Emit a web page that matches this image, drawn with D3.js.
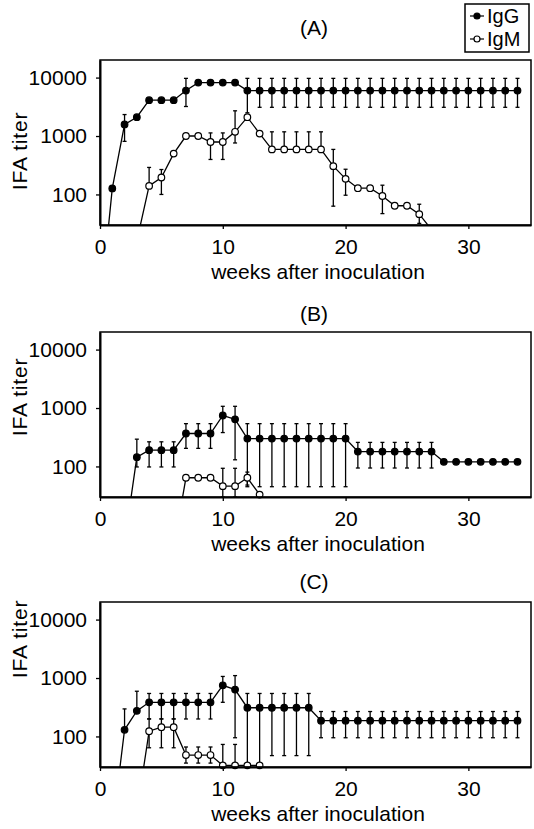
<!DOCTYPE html>
<html>
<head>
<meta charset="utf-8">
<script src="https://cdn.jsdelivr.net/npm/d3@7"></script>
<style>
  body { margin: 0; background: #fff; }
  text { font-family: "Liberation Sans", Arial, sans-serif; fill: #000; }
</style>
</head>
<body>
<svg id="chart" width="534" height="829"></svg>
<script>
// weeks after inoculation (one value per week, null = not plotted)
var weeks = [0,1,2,3,4,5,6,7,8,9,10,11,12,13,14,15,16,17,18,19,20,21,22,23,24,25,26,27,28,29,30,31,32,33,34];
var xTicks = [0, 10, 20, 30];
var yTicks = [100, 1000, 10000];
var titles = ["(A)", "(B)", "(C)"];
var seriesNames = ["IgG", "IgM"];

// panel A
var igG_A    = [1,127,1580,2100,4100,4100,4100,6000,8200,8200,8200,8200,6000,6000,6000,6000,6000,6000,6000,6000,6000,6000,6000,6000,6000,6000,6000,6000,6000,6000,6000,6000,6000,6000,6000];
var igG_A_lo = [null,null,810,null,null,null,null,3200,null,null,null,null,2500,3100,3100,3100,3100,3100,3100,3100,3100,3100,3100,3100,3100,3100,3100,3100,3100,3100,3100,3100,3100,3100,3100];
var igG_A_hi = [null,null,2330,null,null,null,null,9700,null,null,null,null,9700,9700,9700,9700,9700,9700,9700,9700,9700,9700,9700,9700,9700,9700,9700,9700,9700,9700,9700,9700,9700,9700,9700];
var igM_A    = [null,null,null,16,140,195,500,1000,1000,790,790,1180,2100,1100,590,590,590,590,590,305,185,128,128,94,64,64,46,25,null,null,null,null,null,null,null];
var igM_A_lo = [null,null,null,null,140,100,null,null,null,397,397,760,null,null,590,590,590,590,590,63,97,null,null,47,null,null,32,null,null,null,null,null,null,null,null];
var igM_A_hi = [null,null,null,null,290,267,null,null,null,1130,1130,2700,null,null,1180,1180,1180,1180,1180,590,270,null,null,144,null,null,68,null,null,null,null,null,null,null,null];

// panel B
var igG_B    = [null,null,5,144,190,190,190,366,366,366,745,640,300,300,300,300,300,300,300,300,300,180,180,180,180,180,180,180,120,120,120,120,120,120,120];
var igG_B_lo = [null,null,null,98,98,98,98,204,204,204,380,130,45,45,45,45,45,45,45,45,45,94,94,94,94,94,94,94,null,null,null,null,null,null,null];
var igG_B_hi = [null,null,null,293,264,264,264,540,540,540,1070,1070,540,540,540,540,540,540,540,540,540,258,258,258,258,258,258,258,null,null,null,null,null,null,null];
var igM_B    = [null,null,null,null,null,null,4,64,64,64,46,46,64,33,null,null,null,null,null,null,null,null,null,null,null,null,null,null,null,null,null,null,null,null,null];
var igM_B_lo = [null,null,null,null,null,null,null,null,null,null,30,30,48,null,null,null,null,null,null,null,null,null,null,null,null,null,null,null,null,null,null,null,null,null,null];
var igM_B_hi = [null,null,null,null,null,null,null,null,null,null,93,93,80,null,null,null,null,null,null,null,null,null,null,null,null,null,null,null,null,null,null,null,null,null,null];

// panel C
var igG_C    = [null,2.5,130,274,384,384,384,384,384,384,750,635,310,310,310,310,310,310,186,186,186,186,186,186,186,186,186,186,186,186,186,186,186,186,186];
var igG_C_lo = [null,null,130,274,199,199,199,199,199,199,384,95,28,28,47,47,47,47,95,95,95,95,95,95,95,95,95,95,95,95,95,95,95,95,95];
var igG_C_hi = [null,null,296,594,544,544,544,544,544,544,1064,1100,544,544,544,544,544,544,267,267,267,267,267,267,267,267,267,267,267,267,267,267,267,267,267];
var igM_C    = [null,null,null,5,123,144,144,48,48,48,32,32,32,32,null,null,null,null,null,null,null,null,null,null,null,null,null,null,null,null,null,null,null,null,null];
var igM_C_lo = [null,null,null,null,64,64,64,35,35,35,30,30,null,null,null,null,null,null,null,null,null,null,null,null,null,null,null,null,null,null,null,null,null,null,null];
var igM_C_hi = [null,null,null,null,200,200,200,66,66,66,73,73,null,null,null,null,null,null,null,null,null,null,null,null,null,null,null,null,null,null,null,null,null,null,null];

var svg = d3.select("#chart");
var LEFT = 100, RIGHT = 531, PH = 165, FS = 21;

var panels = [
  { top: 60,  titleY: 35,  labelY: 151, igG: [igG_A, igG_A_lo, igG_A_hi], igM: [igM_A, igM_A_lo, igM_A_hi] },
  { top: 332, titleY: 321, labelY: 397, igG: [igG_B, igG_B_lo, igG_B_hi], igM: [igM_B, igM_B_lo, igM_B_hi] },
  { top: 602, titleY: 589, labelY: 639, igG: [igG_C, igG_C_lo, igG_C_hi], igM: [igM_C, igM_C_lo, igM_C_hi] }
];

function rows(s) {
  return weeks.map(function(w, i) {
    return { w: w, v: s[0][i], lo: s[1][i], hi: s[2][i] };
  });
}

panels.forEach(function(p, pi) {
  var x = d3.scaleLinear().domain([0, 35.1]).range([LEFT, RIGHT]);
  var y = d3.scaleLog().domain([30, 20000]).range([p.top + PH, p.top]);
  var g = svg.append("g");

  g.append("clipPath").attr("id", "clip" + pi)
    .append("rect").attr("x", LEFT).attr("y", p.top).attr("width", RIGHT - LEFT).attr("height", PH);

  g.append("text").attr("x", 314).attr("y", p.titleY)
    .attr("text-anchor", "middle").attr("font-size", FS).text(titles[pi]);

  var line = d3.line()
    .defined(function(d) { return d.v != null; })
    .x(function(d) { return x(d.w); })
    .y(function(d) { return y(d.v); });

  var inner = g.append("g").attr("clip-path", "url(#clip" + pi + ")");
  [p.igG, p.igM].forEach(function(s) {
    var data = rows(s);
    inner.append("path").datum(data).attr("d", line)
      .attr("fill", "none").attr("stroke", "#000").attr("stroke-width", 1.3);
    var eb = data.filter(function(d) { return d.lo != null && d.hi != null; });
    eb.forEach(function(d) {
      var cx = x(d.w);
      inner.append("line").attr("x1", cx).attr("x2", cx).attr("y1", y(d.lo)).attr("y2", y(d.hi))
        .attr("stroke", "#000").attr("stroke-width", 1.3);
      [d.lo, d.hi].forEach(function(v) {
        inner.append("line").attr("x1", cx - 2).attr("x2", cx + 2).attr("y1", y(v)).attr("y2", y(v))
          .attr("stroke", "#000").attr("stroke-width", 1.3);
      });
    });
  });

  [p.igG, p.igM].forEach(function(s, si) {
    var pts = rows(s).filter(function(d) { return d.v != null && d.v >= 30; });
    g.selectAll(null).data(pts).enter().append("circle")
      .attr("cx", function(d) { return x(d.w); })
      .attr("cy", function(d) { return y(d.v); })
      .attr("r", 3.3)
      .attr("fill", si === 0 ? "#000" : "#fff")
      .attr("stroke", "#000").attr("stroke-width", 1.2);
  });

  g.append("rect").attr("x", LEFT).attr("y", p.top).attr("width", RIGHT - LEFT).attr("height", PH)
    .attr("fill", "none").attr("stroke", "#000").attr("stroke-width", 1.5);

  var xAxis = d3.axisBottom(x).tickValues(xTicks).tickSize(4).tickPadding(10).tickSizeOuter(0);
  var yAxis = d3.axisLeft(y).tickValues(yTicks).tickFormat(d3.format("d")).tickSize(4).tickPadding(9).tickSizeOuter(0);

  var gx = g.append("g").attr("transform", "translate(0," + (p.top + PH) + ")").call(xAxis);
  var gy = g.append("g").attr("transform", "translate(" + LEFT + ",0)").call(yAxis);
  [gx, gy].forEach(function(a) {
    a.attr("font-size", FS).attr("font-family", null);
    a.select(".domain").attr("stroke-width", 2);
    a.selectAll(".tick line").attr("stroke-width", 1.3);
  });

  g.append("text").attr("x", 318).attr("y", p.top + PH + 54)
    .attr("text-anchor", "middle").attr("font-size", FS).text("weeks after inoculation");

  g.append("text")
    .attr("transform", "translate(27," + p.labelY + ") rotate(-90)")
    .attr("text-anchor", "middle").attr("font-size", FS).attr("letter-spacing", 0.8)
    .text("IFA titer");
});

// legend
var lg = svg.append("g");
lg.append("rect").attr("x", 465).attr("y", 4).attr("width", 64).attr("height", 48)
  .attr("fill", "#fff").attr("stroke", "#000").attr("stroke-width", 1.5);
seriesNames.forEach(function(name, i) {
  var ly = 16 + i * 23;
  lg.append("line").attr("x1", 470).attr("x2", 484).attr("y1", ly).attr("y2", ly)
    .attr("stroke", "#000").attr("stroke-width", 1.2);
  lg.append("circle").attr("cx", 477).attr("cy", ly).attr("r", 3)
    .attr("fill", i === 0 ? "#000" : "#fff").attr("stroke", "#000").attr("stroke-width", 1.2);
  lg.append("text").attr("x", 487).attr("y", ly + 7).attr("font-size", 20).text(name);
});
</script>
</body>
</html>
